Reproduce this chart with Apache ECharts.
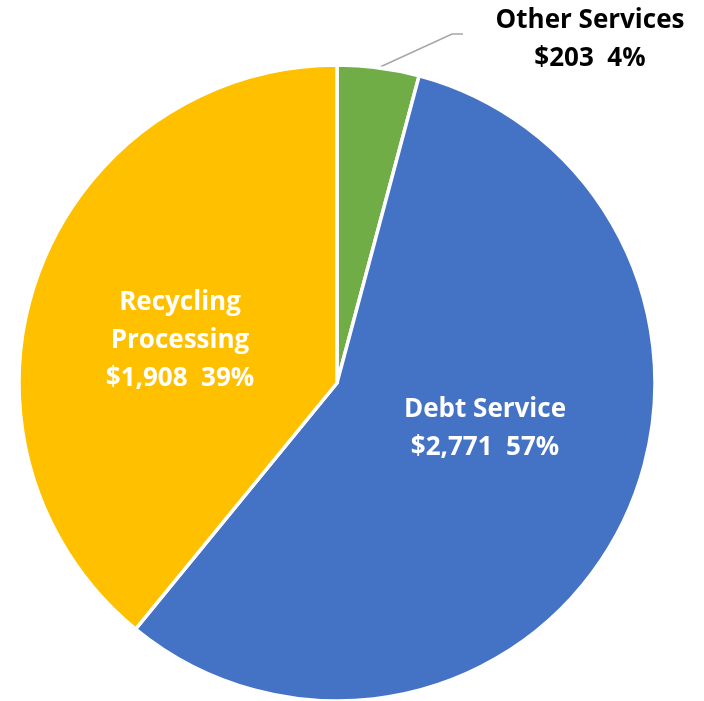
<!DOCTYPE html>
<html>
<head>
<meta charset="utf-8">
<script src="https://cdn.jsdelivr.net/npm/echarts@6/dist/echarts.min.js"></script>
<style>
  html, body { margin: 0; padding: 0; background: #ffffff; }
  #chart { width: 704px; height: 701px; }
</style>
</head>
<body>
<div id="chart"></div>
<script>
// Budget breakdown (dollar amounts)
const categories = ['Other Services', 'Debt Service', 'Recycling\nProcessing'];
const amounts = [203, 2771, 1908];
const sliceColors = ['#70AD47', '#4472C4', '#FFC000'];
const labelColors = ['#000000', '#ffffff', '#ffffff'];
const labelPlacement = ['outside', 'inside', 'inside'];

const FONT = '"Open Sans", Lato, sans-serif';

const chart = echarts.init(document.getElementById('chart'), null, { renderer: 'canvas' });

const data = categories.map(function (name, i) {
  return {
    name: name,
    value: amounts[i],
    itemStyle: { color: sliceColors[i] },
    label: { color: labelColors[i], position: labelPlacement[i] },
    labelLine: { show: labelPlacement[i] === 'outside' }
  };
});

// Label anchor positions (block centres) for each slice's text
const labelSpots = [
  { x: 590, y: 40 },
  { x: 485, y: 429 },
  { x: 180, y: 341 }
];

chart.setOption({
  backgroundColor: '#ffffff',
  animation: false,
  series: [{
    type: 'pie',
    center: [337, 383],
    radius: ['0%', 318],
    startAngle: 90,
    clockwise: true,
    avoidLabelOverlap: false,
    data: data,
    itemStyle: { borderColor: '#ffffff', borderWidth: 3.5, borderJoin: 'miter' },
    label: {
      show: true,
      fontFamily: FONT,
      fontWeight: 'bold',
      fontSize: 26,
      lineHeight: 38,
      align: 'center',
      overflow: 'none',
      formatter: function (p) {
        return p.name + '\n$' + p.value.toLocaleString('en-US') + '  ' + Math.round(p.percent) + '%';
      }
    },
    labelLine: {
      length: 20,
      length2: 10,
      smooth: false,
      lineStyle: { color: '#A6A6A6', width: 1.5 }
    },
    labelLayout: function (p) {
      const spot = labelSpots[p.dataIndex];
      const out = {
        x: spot.x,
        y: spot.y,
        align: 'center',
        verticalAlign: 'middle',
        hideOverlap: false
      };
      if (p.dataIndex === 0 && p.labelLinePoints) {
        const start = p.labelLinePoints[0];
        out.labelLinePoints = [start, [452, 34], [463, 34]];
      }
      return out;
    },
    emphasis: { disabled: true }
  }]
});
</script>
</body>
</html>
